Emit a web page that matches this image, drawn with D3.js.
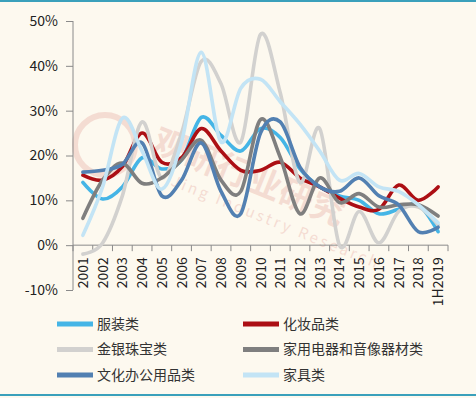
<!DOCTYPE html>
<html>
<head>
<meta charset="utf-8">
<script src="https://cdn.jsdelivr.net/npm/d3@7"></script>
<style>
  html, body { margin: 0; padding: 0; background: #fdf9ef; }
  svg { display: block; font-family: "Noto Sans CJK SC", "Noto Sans", sans-serif; }
</style>
</head>
<body>
<svg id="chart" width="476" height="398"></svg>
<script>
// categories
const years = ["2001","2002","2003","2004","2005","2006","2007","2008","2009","2010",
  "2011","2012","2013","2014","2015","2016","2017","2018","1H2019"];

// series values (%)
const clothing   = [14, 10.3, 13, 19.5, 17, 19, 28.5, 24.5, 21, 26, 24, 17, 13, 11, 10, 7, 8, 9, 3];
const cosmetics  = [15.6, 14.5, 17.5, 25, 18.5, 19.5, 26, 21, 16.7, 16.7, 18.5, 15, 13, 10.5, 8.5, 8, 13.4, 10, 13];
const jewelry    = [-2, 0.5, 11, 27.5, 15, 25, 41, 36, 23, 47, 34, 14, 26, 0, 7.5, 0.5, 7.5, 8.5, 4.5];
const appliances = [6, 14.5, 18.3, 13.8, 15, 19, 23.4, 14.5, 12, 28, 19.6, 7, 15, 9.5, 11.5, 8.5, 9, 9, 6.5];
const office     = [16.3, 16.7, 18, 22.8, 11, 14.5, 22.8, 12, 7, 25, 27.5, 17.4, 13, 12, 15, 11, 9, 3, 4];
const furniture  = [2.2, 13, 28.3, 21, 12.5, 23, 43, 23, 35, 37, 32, 27, 21, 14.5, 16, 13, 12, 9, 5];

const yTicks = [-10, 0, 10, 20, 30, 40, 50];

const series = [
  { name: "服装类", values: clothing, color: "#45b5e6" },
  { name: "化妆品类", values: cosmetics, color: "#ac0f14" },
  { name: "金银珠宝类", values: jewelry, color: "#d2d1cf" },
  { name: "家用电器和音像器材类", values: appliances, color: "#7f7f7f" },
  { name: "文化办公用品类", values: office, color: "#5280b2" },
  { name: "家具类", values: furniture, color: "#c3e4f5" }
];

const svg = d3.select("#chart");

// frame lines
svg.append("line").attr("x1", 0).attr("x2", 476).attr("y1", 1).attr("y2", 1)
  .attr("stroke", "#3aa0bb").attr("stroke-width", 2);
svg.append("line").attr("x1", 0).attr("x2", 476).attr("y1", 395).attr("y2", 395)
  .attr("stroke", "#3aa0bb").attr("stroke-width", 2);

// faint watermark
const wm = svg.append("g").attr("opacity", 0.22);
wm.append("circle").attr("cx", 105).attr("cy", 145).attr("r", 30)
  .attr("fill", "none").attr("stroke", "#d9776f").attr("stroke-width", 6);
wm.append("text").attr("transform", "translate(150,150) rotate(22)")
  .attr("font-size", 34).attr("font-weight", "bold").attr("fill", "#d9776f")
  .text("观研行业研究");
wm.append("text").attr("transform", "translate(170,185) rotate(22)")
  .attr("font-size", 15).attr("fill", "#d9776f").attr("letter-spacing", 3)
  .text("Jing Industry Research");

const x = d3.scaleBand().domain(years).range([73, 448]);
const y = d3.scaleLinear().domain([-10, 50]).range([290, 21]);

// y axis
const yAxis = svg.append("g").attr("transform", "translate(73,0)")
  .call(d3.axisLeft(y).tickValues(yTicks).tickSize(7).tickPadding(8)
    .tickFormat(d => d + "%"));
yAxis.selectAll("path, line").attr("stroke", "#8a8a8a");
yAxis.selectAll("text").attr("font-size", 14).attr("fill", "#222")
  .attr("font-family", "'Noto Sans CJK SC', 'Noto Sans', sans-serif");
yAxis.select(".domain").attr("d", "M0," + y(50) + "V" + y(-10));

// x axis at 0%
const xAxis = svg.append("g").attr("transform", "translate(0," + y(0) + ")");
xAxis.append("line").attr("x1", 73).attr("x2", 448).attr("stroke", "#8a8a8a");
xAxis.selectAll(".tk").data(d3.range(years.length + 1)).join("line")
  .attr("x1", i => 73 + i * x.bandwidth()).attr("x2", i => 73 + i * x.bandwidth())
  .attr("y1", 0).attr("y2", 6).attr("stroke", "#8a8a8a");
xAxis.selectAll(".lbl").data(years).join("text")
  .attr("transform", d => "translate(" + (x(d) + x.bandwidth() / 2 + 5) + ",12) rotate(-90)")
  .attr("text-anchor", "end").attr("font-size", 14).attr("fill", "#222")
  .text(d => d);

// lines
const line = d3.line()
  .x((d, i) => x(years[i]) + x.bandwidth() / 2)
  .y(d => y(d))
  .curve(d3.curveCardinal.tension(0));

svg.append("g").selectAll("path").data(series).join("path")
  .attr("d", d => line(d.values))
  .attr("fill", "none")
  .attr("stroke", d => d.color)
  .attr("stroke-width", 3.6)
  .attr("stroke-linejoin", "round")
  .attr("stroke-linecap", "round");

// legend
const legend = svg.append("g");
series.forEach((s, i) => {
  const col = i % 2, row = Math.floor(i / 2);
  const lx = col === 0 ? 57 : 243;
  const ly = 324 + row * 25.5;
  legend.append("line").attr("x1", lx).attr("x2", lx + 36).attr("y1", ly).attr("y2", ly)
    .attr("stroke", s.color).attr("stroke-width", 5);
  legend.append("text").attr("x", lx + 40).attr("y", ly).attr("dy", "0.35em")
    .attr("font-size", 14).attr("fill", "#333").text(s.name);
});
</script>
</body>
</html>
